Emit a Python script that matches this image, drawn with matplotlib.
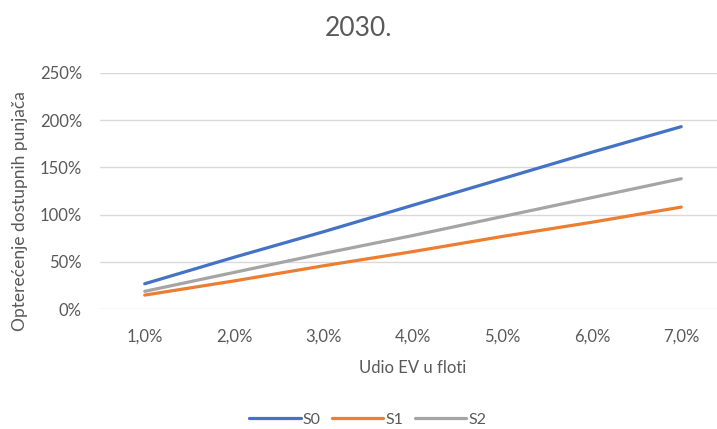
#---Import useful libraries---
import matplotlib
matplotlib.use("Agg")
import matplotlib.pyplot as plt
from matplotlib.ticker import FuncFormatter

#---Chart data---
categories = ["1,0%", "2,0%", "3,0%", "4,0%", "5,0%", "6,0%", "7,0%"]
s0 = [27, 55, 82, 110, 138, 166, 193]
s1 = [15, 30, 46, 61, 77, 92, 108]
s2 = [19, 39, 59, 78, 98, 118, 138]
series_names = ["S0", "S1", "S2"]
y_ticks = [0, 50, 100, 150, 200, 250]

colors = ["#4472C4", "#ED7D31", "#A5A5A5"]
text_col = "#595959"
plt.rcParams['font.family'] = ['Lato', 'DejaVu Sans']

#---Figure and axes---
fig = plt.figure(figsize=(7.17, 4.29), dpi=100)
ax = fig.add_axes([0.1395, 0.279, 0.873, 0.5515])

x = list(range(len(categories)))
for vals, name, c in zip([s0, s1, s2], series_names, colors):
    ax.plot(x, vals, color=c, linewidth=2.3, label=name, solid_capstyle='round')

ax.set_xlim(-0.5, len(categories) - 0.5)
ax.set_ylim(0, 250)
ax.set_yticks(y_ticks)
ax.yaxis.set_major_formatter(FuncFormatter(lambda v, p: f"{int(v)}%"))
ax.set_xticks(x)
ax.set_xticklabels(categories)
ax.grid(axis='y', color='#D9D9D9', linewidth=1)
ax.set_axisbelow(True)
for s in ax.spines.values():
    s.set_visible(False)
ax.tick_params(length=0, colors=text_col, labelsize=12)
ax.tick_params(axis='x', pad=14)
ax.tick_params(axis='y', pad=13)

#---Text---
fig.text(0.5, 0.933, "2030.", ha='center', va='center', fontsize=19, color=text_col)
ax.set_xlabel("Udio EV u floti", color=text_col, fontsize=12, labelpad=11)
fig.text(0.028, 0.507, "Opterećenje dostupnih punjača", rotation=90, ha='center',
         va='center', fontsize=12.5, color=text_col)

leg = fig.legend(loc='center', bbox_to_anchor=(0.513, 0.022), ncol=3, frameon=False,
                 fontsize=11.5, handlelength=3.2, columnspacing=0.7, handletextpad=0.15)
for t in leg.get_texts():
    t.set_color(text_col)

#---Save---
fig.savefig("out.png", dpi=100)
